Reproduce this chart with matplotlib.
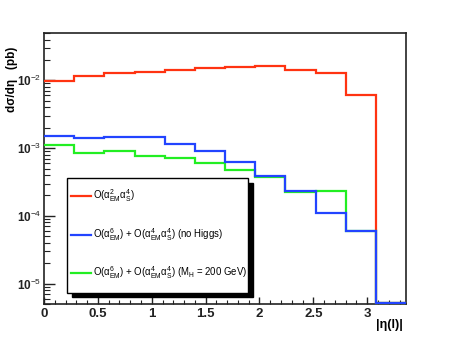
import numpy as np
import matplotlib
matplotlib.use('Agg')
import matplotlib.pyplot as plt
from matplotlib.patches import Rectangle
from matplotlib.lines import Line2D
from matplotlib.ticker import LogLocator, MultipleLocator, FuncFormatter, NullFormatter

# ---- data ----
bin_edges = [0.0, 0.28, 0.56, 0.84, 1.12, 1.40, 1.68, 1.96, 2.24, 2.52, 2.80, 3.08, 3.36]
red_qcd = [0.0099, 0.0116, 0.0130, 0.0134, 0.0144, 0.0152, 0.0156, 0.0165, 0.0144, 0.0130, 0.0061, 0.0]
green_mh200 = [0.00111, 0.00086, 0.00090, 0.00076, 0.00071, 0.00061, 0.00048, 0.00037, 0.000227, 0.000235, 5.9e-5, 0.0]
blue_nohiggs = [0.00152, 0.00140, 0.00146, 0.00146, 0.00114, 0.00091, 0.00062, 0.00039, 0.000235, 0.000109, 6.0e-5, 0.0]
labels = [r'O($\alpha^{2}_{EM}\alpha^{4}_{S}$)',
          r'O($\alpha^{6}_{EM}$) + O($\alpha^{4}_{EM}\alpha^{4}_{S}$) (no Higgs)',
          r'O($\alpha^{6}_{EM}$) + O($\alpha^{4}_{EM}\alpha^{4}_{S}$) (M$_{H}$ = 200 GeV)']
colors = ['#ff3311', '#2244ff', '#22ee22']
x_ticks = [0, 0.5, 1, 1.5, 2, 2.5, 3]
y_min, y_max = 5e-6, 5e-2

plt.rcParams['font.family'] = ['Liberation Sans', 'DejaVu Sans']
plt.rcParams['mathtext.fontset'] = 'custom'
plt.rcParams['mathtext.rm'] = 'Liberation Sans'
plt.rcParams['mathtext.it'] = 'Liberation Sans:italic'
plt.rcParams['mathtext.bf'] = 'Liberation Sans:bold'
plt.rcParams['mathtext.default'] = 'regular'

W, H = 452, 338
fig = plt.figure(figsize=(W / 100, H / 100), dpi=100)
L, R, T, B = 44, 406, 33, 304
ax = fig.add_axes([L / W, (H - B) / H, (R - L) / W, (B - T) / H])

edges = np.array(bin_edges)
for vals, c in [(red_qcd, colors[0]), (green_mh200, colors[2]), (blue_nohiggs, colors[1])]:
    v = np.array(vals, dtype=float)
    v = np.where(v > 0, v, y_min * 1.04)
    ax.stairs(v, edges, baseline=None, color=c, lw=1.6, clip_on=False, zorder=3)

ax.set_yscale('log')
ax.set_xlim(0, 3.36)
ax.set_ylim(y_min, y_max)

ax.xaxis.set_major_locator(matplotlib.ticker.FixedLocator(x_ticks))
ax.xaxis.set_minor_locator(MultipleLocator(0.1))
ax.set_xticklabels(['0', '0.5', '1', '1.5', '2', '2.5', '3'])
ax.yaxis.set_major_locator(LogLocator(base=10, numticks=10))
ax.yaxis.set_minor_locator(LogLocator(base=10, subs=np.arange(2, 10), numticks=20))
ax.yaxis.set_minor_formatter(NullFormatter())
ax.yaxis.set_major_formatter(FuncFormatter(
    lambda v, p: r'$\mathbf{10}^{\mathregular{-%d}}$' % int(round(-np.log10(v)))))

ax.tick_params(which='both', direction='in', top=False, right=False, colors='#222222')
ax.tick_params(axis='x', which='major', length=5, width=1, pad=3, labelsize=9.5)
ax.tick_params(axis='x', which='minor', length=3, width=0.8)
ax.tick_params(axis='y', which='major', length=8, width=1, pad=2, labelsize=8.5)
ax.tick_params(axis='y', which='minor', length=4.3, width=0.8)
for lab in ax.get_xticklabels():
    lab.set_fontweight('bold')
for sp in ax.spines.values():
    sp.set_linewidth(1.2)
    sp.set_color('#222222')

fig.text(12 / W, 1 - 47 / H, 'dσ/dη   (pb)', rotation=90, ha='center', va='top',
         fontsize=8.5, fontweight='bold')
fig.text(403 / W, 1 - 325 / H, '|η(l)|', ha='right', va='center', fontsize=9, fontweight='bold')

# ---- legend (drawn manually, ROOT style with black shadow) ----
def ax_xy(px, py):
    return (px - L) / (R - L), (B - py) / (B - T)

bx0, by0, bx1, by1 = 66.7, 178, 248, 293
sx, sy = ax_xy(bx0 + 5, by1 + 4)
sx1, sy1 = ax_xy(bx1 + 5, by0 + 5)
ax.add_patch(Rectangle((sx, sy), sx1 - sx, sy1 - sy, transform=ax.transAxes,
                       facecolor='black', edgecolor='black', clip_on=False, zorder=10))
x0, y0 = ax_xy(bx0, by1)
x1, y1 = ax_xy(bx1, by0)
ax.add_patch(Rectangle((x0, y0), x1 - x0, y1 - y0, transform=ax.transAxes,
                       facecolor='white', edgecolor='black', lw=1, clip_on=False, zorder=11))
entry_y = [196, 235, 273]
for lab, c, ey in zip(labels, colors, entry_y):
    lx0, ly = ax_xy(71, ey)
    lx1, _ = ax_xy(91, ey)
    ax.add_line(Line2D([lx0, lx1], [ly, ly], transform=ax.transAxes, color=c, lw=1.6,
                       clip_on=False, zorder=12))
    tx, _ = ax_xy(93, ey)
    ax.text(tx, ly, lab, transform=ax.transAxes, ha='left', va='center', fontsize=6.9,
            zorder=12, clip_on=False)

fig.savefig('out.png', dpi=100)
